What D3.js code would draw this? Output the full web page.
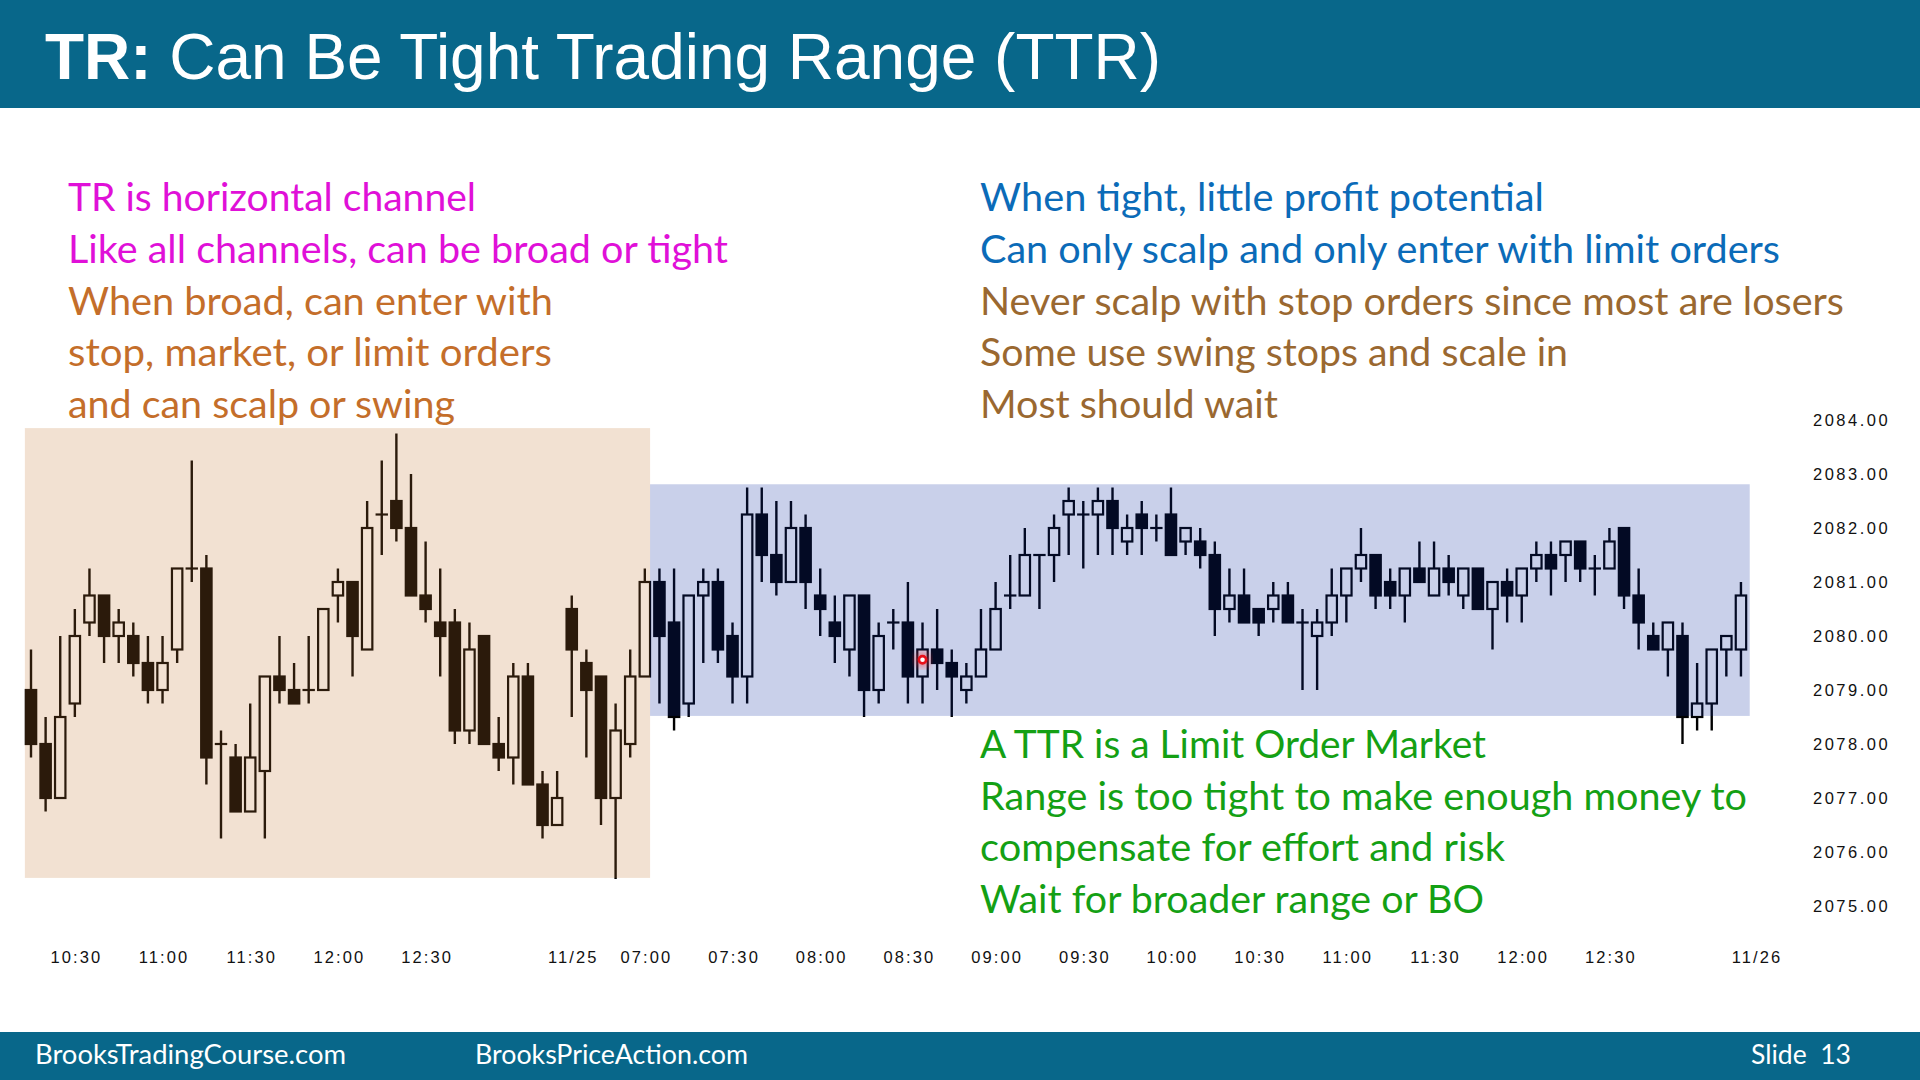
<!DOCTYPE html>
<html>
<head>
<meta charset="utf-8">
<script src="https://cdn.jsdelivr.net/npm/d3@7"></script>
<style>
  body { margin: 0; background: #fff; }
  svg { display: block; }
  .axis text { font-family: Arial, "Liberation Sans", sans-serif; fill: #111; }
</style>
</head>
<body>
<script>
"use strict";

// sessions shown on the chart (5 minute bars, labelled by bar end time)
const sessions = [
  { date: '11/24', start: '10:15', end: '13:15' },
  { date: '11/25', start: '06:35', end: '13:15' },
];
const nextSessionKey = '11/26 06:35';

// OHLC (ES ticks of 0.25)
const opens = [
  2079.0, 2078.0, 2077.0, 2078.75, 2080.25, 2080.75, 2080.0, 2080.0, 2079.5, 2079.0,
  2079.75, 2081.25, 2081.25, 2078.0, 2077.75, 2076.75, 2077.5, 2079.25, 2079.0, 2079.0,
  2079.0, 2080.75, 2081.0, 2079.75, 2082.25, 2082.5, 2082.0, 2080.75, 2080.25, 2080.25,
  2078.25, 2080.0, 2078.0, 2077.75, 2079.25, 2077.25, 2076.5,
  2080.5, 2079.5, 2079.25, 2077.0, 2078.0, 2079.25, 2081.0, 2080.25, 2078.75, 2080.75,
  2081.0, 2080.0, 2079.25, 2082.25, 2081.5, 2081.0, 2082.0, 2080.75, 2080.25, 2079.75,
  2080.75, 2079.0, 2080.25, 2080.25, 2079.25, 2079.75, 2079.5, 2079.0, 2079.25, 2079.75,
  2080.75, 2080.75, 2081.5, 2081.5, 2082.25, 2082.25, 2082.25, 2082.5, 2081.75, 2082.25,
  2082.0, 2082.25, 2081.75, 2081.75, 2081.5, 2080.5, 2080.75, 2080.5, 2080.5, 2080.75,
  2080.25, 2080.0, 2080.25, 2080.75, 2081.25, 2081.5, 2081.0, 2080.75, 2081.25, 2080.75,
  2081.25, 2080.75, 2081.25, 2080.5, 2081.0, 2080.75, 2081.25, 2081.5, 2081.5, 2081.75,
  2081.25, 2081.25, 2082.0, 2080.75, 2080.0, 2079.75, 2080.0, 2078.5, 2078.75, 2079.75,
  2079.75,
];
const highs = [
  2079.75, 2078.5, 2080.0, 2080.5, 2081.25, 2080.75, 2080.5, 2080.25, 2080.0, 2080.0,
  2081.25, 2083.25, 2081.5, 2078.25, 2078.0, 2078.75, 2079.25, 2080.0, 2079.5, 2080.0,
  2080.5, 2081.25, 2081.0, 2082.5, 2083.25, 2083.75, 2083.0, 2081.75, 2081.25, 2080.5,
  2080.25, 2080.0, 2078.5, 2079.5, 2079.5, 2077.5, 2077.5,
  2080.75, 2079.75, 2079.25, 2078.75, 2079.75, 2081.25, 2081.25, 2081.25, 2080.75, 2081.25,
  2081.25, 2080.25, 2082.75, 2082.75, 2082.5, 2082.5, 2082.25, 2081.25, 2080.75, 2080.75,
  2080.75, 2080.25, 2080.5, 2081.0, 2080.25, 2080.5, 2079.75, 2079.5, 2080.5, 2081.0,
  2081.5, 2082.0, 2081.5, 2082.25, 2082.75, 2082.5, 2082.75, 2082.75, 2082.25, 2082.5,
  2082.25, 2082.75, 2082.0, 2082.0, 2081.75, 2081.25, 2081.25, 2080.5, 2081.0, 2081.0,
  2080.5, 2080.5, 2081.25, 2081.25, 2082.0, 2081.5, 2081.25, 2081.25, 2081.75, 2081.75,
  2081.5, 2081.25, 2081.25, 2081.0, 2081.25, 2081.25, 2081.75, 2081.75, 2081.75, 2081.75,
  2081.5, 2082.0, 2082.0, 2081.25, 2080.25, 2080.25, 2080.25, 2079.5, 2079.75, 2080.0,
  2081.0,
];
const lows = [
  2077.75, 2076.75, 2077.0, 2078.5, 2080.0, 2079.5, 2079.5, 2079.25, 2078.75, 2078.75,
  2079.5, 2081.0, 2077.25, 2076.25, 2076.75, 2076.75, 2076.25, 2078.75, 2078.75, 2078.75,
  2079.0, 2080.25, 2079.25, 2079.75, 2081.5, 2081.75, 2080.75, 2080.25, 2079.25, 2078.0,
  2078.0, 2078.0, 2077.5, 2077.25, 2077.25, 2076.25, 2076.5,
  2078.5, 2077.75, 2076.5, 2075.5, 2077.75, 2079.25, 2078.75, 2078.25, 2078.5, 2079.5,
  2079.5, 2078.75, 2078.75, 2081.0, 2080.75, 2081.0, 2080.5, 2080.0, 2079.5, 2079.25,
  2078.5, 2078.75, 2079.75, 2078.75, 2078.75, 2079.0, 2078.5, 2078.75, 2079.25, 2079.75,
  2080.5, 2080.75, 2080.5, 2081.0, 2081.5, 2081.25, 2081.5, 2081.5, 2081.5, 2081.5,
  2081.75, 2081.5, 2081.5, 2081.25, 2080.0, 2080.25, 2080.25, 2080.0, 2080.25, 2080.25,
  2079.0, 2079.0, 2080.0, 2080.25, 2081.0, 2080.5, 2080.5, 2080.25, 2081.0, 2080.75,
  2080.75, 2080.5, 2080.5, 2079.75, 2080.25, 2080.25, 2081.0, 2080.75, 2081.0, 2081.0,
  2080.75, 2081.25, 2080.5, 2079.75, 2079.75, 2079.25, 2078.0, 2078.25, 2078.25, 2079.25,
  2079.25,
];
const closes = [
  2078.0, 2077.0, 2078.5, 2080.0, 2080.75, 2080.0, 2080.25, 2079.5, 2079.0, 2079.5,
  2081.25, 2081.25, 2077.75, 2078.0, 2076.75, 2077.75, 2079.25, 2079.0, 2078.75, 2079.0,
  2080.5, 2081.0, 2080.0, 2082.0, 2082.25, 2082.0, 2080.75, 2080.5, 2080.0, 2078.25,
  2079.75, 2078.0, 2077.75, 2079.25, 2077.25, 2076.5, 2077.0,
  2079.75, 2079.0, 2077.0, 2078.25, 2079.25, 2081.0, 2080.0, 2078.5, 2080.75, 2081.0,
  2079.75, 2079.25, 2082.25, 2081.5, 2081.0, 2082.0, 2081.0, 2080.5, 2080.0, 2080.75,
  2079.0, 2080.0, 2080.25, 2079.25, 2079.75, 2079.5, 2079.25, 2079.25, 2079.75, 2080.5,
  2080.75, 2081.5, 2081.5, 2082.0, 2082.5, 2082.25, 2082.5, 2082.0, 2082.0, 2082.0,
  2082.0, 2081.5, 2082.0, 2081.5, 2080.5, 2080.75, 2080.25, 2080.25, 2080.75, 2080.25,
  2080.25, 2080.25, 2080.75, 2081.25, 2081.5, 2080.75, 2080.75, 2081.25, 2081.0, 2081.25,
  2081.0, 2081.25, 2080.5, 2081.0, 2080.75, 2081.25, 2081.5, 2081.25, 2081.75, 2081.25,
  2081.25, 2081.75, 2080.75, 2080.25, 2079.75, 2080.25, 2078.5, 2078.75, 2079.75, 2080.0,
  2080.75,
];

const priceTicks = [2075, 2076, 2077, 2078, 2079, 2080, 2081, 2082, 2083, 2084];
const timeTicks = [
  ['11/24 10:30', '10:30'], ['11/24 11:00', '11:00'], ['11/24 11:30', '11:30'],
  ['11/24 12:00', '12:00'], ['11/24 12:30', '12:30'],
  ['11/25 06:35', '11/25'], ['11/25 07:00', '07:00'], ['11/25 07:30', '07:30'],
  ['11/25 08:00', '08:00'], ['11/25 08:30', '08:30'], ['11/25 09:00', '09:00'],
  ['11/25 09:30', '09:30'], ['11/25 10:00', '10:00'], ['11/25 10:30', '10:30'],
  ['11/25 11:00', '11:00'], ['11/25 11:30', '11:30'], ['11/25 12:00', '12:00'],
  ['11/25 12:30', '12:30'], ['11/26 06:35', '11/26'],
];

// shaded zones: first bar, last bar, low, high
const broadZone = { from: '11/24 10:15', to: '11/25 07:00', low: 2075.52, high: 2083.85 };
const tightZone = { from: '11/25 07:00', to: '11/25 13:15', low: 2078.52, high: 2082.81 };
const pointer = { key: '11/25 08:35', price: 2079.56 };

const leftLines = [
  { text: 'TR is horizontal channel', color: '#e010d8' },
  { text: 'Like all channels, can be broad or tight', color: '#e010d8' },
  { text: 'When broad, can enter with', color: '#c46e2a' },
  { text: 'stop, market, or limit orders', color: '#c46e2a' },
  { text: 'and can scalp or swing', color: '#c46e2a' },
];
const rightLines = [
  { text: 'When tight, little profit potential', color: '#0b6bb8' },
  { text: 'Can only scalp and only enter with limit orders', color: '#0b6bb8' },
  { text: 'Never scalp with stop orders since most are losers', color: '#9a6830' },
  { text: 'Some use swing stops and scale in', color: '#9a6830' },
  { text: 'Most should wait', color: '#9a6830' },
];
const greenLines = [
  { text: 'A TTR is a Limit Order Market', color: '#14a014' },
  { text: 'Range is too tight to make enough money to', color: '#14a014' },
  { text: 'compensate for effort and risk', color: '#14a014' },
  { text: 'Wait for broader range or BO', color: '#14a014' },
];

// ---- layout ----
const W = 1920, H = 1080;
const BRAND = '#08678a';
const leftWidths = [408, 660, 485, 484, 387];
const rightWidths = [564, 800, 864, 588, 298];
const greenWidths = [506, 767, 525, 504];

function buildKeys(list) {
  let keys = [];
  list.forEach((s) => {
    let [h0, m0] = s.start.split(':').map(Number);
    let [h1, m1] = s.end.split(':').map(Number);
    for (let t = h0 * 60 + m0; t <= h1 * 60 + m1; t += 5) {
      let hh = String(Math.floor(t / 60)).padStart(2, '0');
      let mm = String(t % 60).padStart(2, '0');
      keys.push(s.date + ' ' + hh + ':' + mm);
    }
  });
  return keys;
}

const keys = buildKeys(sessions);
const bars = keys.map((k, i) => ({ key: k, o: opens[i], h: highs[i], l: lows[i], c: closes[i] }));

const svg = d3.select('body').append('svg').attr('width', W).attr('height', H);
svg.append('rect').attr('width', W).attr('height', H).attr('fill', '#fff');

// header / footer bands
svg.append('rect').attr('width', W).attr('height', 108).attr('fill', BRAND);
svg.append('rect').attr('y', 1032).attr('width', W).attr('height', 48).attr('fill', BRAND);

let title = svg.append('text')
  .attr('x', 45).attr('y', 79)
  .attr('font-family', 'Arial, "Liberation Sans", sans-serif')
  .attr('font-size', 64).attr('fill', '#fff')
  .attr('textLength', 1116).attr('lengthAdjust', 'spacingAndGlyphs');
title.append('tspan').attr('font-weight', 'bold').text('TR:');
title.append('tspan').text(' Can Be Tight Trading Range (TTR)');

const footer = [
  { text: 'BrooksTradingCourse.com', x: 35, w: 311 },
  { text: 'BrooksPriceAction.com', x: 475, w: 273 },
  { text: 'Slide  13', x: 1751, w: 100 },
];
svg.append('g').selectAll('text').data(footer).join('text')
  .attr('x', (d) => d.x).attr('y', 1064)
  .attr('font-family', 'Lato, "Open Sans", sans-serif')
  .attr('font-size', 26).attr('fill', '#fff')
  .attr('xml:space', 'preserve').style('white-space', 'pre')
  .attr('textLength', (d) => d.w).attr('lengthAdjust', 'spacingAndGlyphs')
  .text((d) => d.text);

// ---- chart ----
const x = d3.scalePoint().domain(keys.concat([nextSessionKey])).range([31, 31 + keys.length * 14.615]);
const step = x.step();
const y = d3.scaleLinear().domain([2075, 2084]).range([906, 420]);

const chart = svg.append('g');

chart.append('g').selectAll('line').data(bars).join('line')
  .attr('x1', (d) => x(d.key)).attr('x2', (d) => x(d.key))
  .attr('y1', (d) => y(d.h)).attr('y2', (d) => y(d.l))
  .attr('stroke', '#000').attr('stroke-width', 2.4);

const bodyW = 10.4;
chart.append('g').selectAll('rect').data(bars.filter((d) => d.o !== d.c)).join('rect')
  .attr('x', (d) => x(d.key) - bodyW / 2)
  .attr('y', (d) => y(Math.max(d.o, d.c)))
  .attr('width', bodyW)
  .attr('height', (d) => Math.abs(y(d.o) - y(d.c)))
  .attr('fill', (d) => d.c > d.o ? '#fff' : '#000')
  .attr('stroke', '#000').attr('stroke-width', 2.2);

chart.append('g').selectAll('line').data(bars.filter((d) => d.o === d.c)).join('line')
  .attr('x1', (d) => x(d.key) - bodyW / 2 - 1).attr('x2', (d) => x(d.key) + bodyW / 2 + 1)
  .attr('y1', (d) => y(d.o)).attr('y2', (d) => y(d.o))
  .attr('stroke', '#000').attr('stroke-width', 2.2);

// translucent zones drawn over the bars
chart.append('rect')
  .attr('x', x(broadZone.from) - step * 0.42)
  .attr('width', x(broadZone.to) + step * 0.36 - (x(broadZone.from) - step * 0.42))
  .attr('y', y(broadZone.high)).attr('height', y(broadZone.low) - y(broadZone.high))
  .attr('fill', 'rgb(196,118,52)').attr('fill-opacity', 0.22);
chart.append('rect')
  .attr('x', x(tightZone.from) + step * 0.36)
  .attr('width', x(tightZone.to) + step * 0.6 - (x(tightZone.from) + step * 0.36))
  .attr('y', y(tightZone.high)).attr('height', y(tightZone.low) - y(tightZone.high))
  .attr('fill', 'rgb(14,46,160)').attr('fill-opacity', 0.225);

// cursor mark
const defs = svg.append('defs');
defs.append('filter').attr('id', 'glow').append('feGaussianBlur').attr('stdDeviation', 3);
chart.append('circle').attr('cx', x(pointer.key)).attr('cy', y(pointer.price))
  .attr('r', 8).attr('fill', '#ff3030').attr('opacity', 0.45).attr('filter', 'url(#glow)');
chart.append('circle').attr('cx', x(pointer.key)).attr('cy', y(pointer.price))
  .attr('r', 3.6).attr('fill', '#fff').attr('stroke', '#e8101a').attr('stroke-width', 2.6);

// axes
const xAxis = d3.axisBottom(x)
  .tickValues(timeTicks.map((d) => d[0]))
  .tickFormat((k) => timeTicks.find((d) => d[0] === k)[1])
  .tickSize(0).tickPadding(3);
let gx = svg.append('g').attr('class', 'axis').attr('transform', 'translate(0,948)').call(xAxis);
gx.select('.domain').remove();
gx.selectAll('text').attr('font-size', 16.5).attr('letter-spacing', 2.1)
  .attr('dx', 1);

const yAxis = d3.axisRight(y)
  .tickValues(priceTicks)
  .tickFormat(d3.format('.2f'))
  .tickSize(0).tickPadding(0);
let gy = svg.append('g').attr('class', 'axis').attr('transform', 'translate(1813,0)').call(yAxis);
gy.select('.domain').remove();
gy.selectAll('text').attr('font-size', 16.5).attr('letter-spacing', 2.5);

// ---- slide text ----
function textBlock(lines, widths, x0, y0, gap) {
  svg.append('g').selectAll('text').data(lines).join('text')
    .attr('x', x0).attr('y', (d, i) => y0 + i * gap)
    .attr('font-family', 'Lato, "Open Sans", sans-serif')
    .attr('font-size', 38)
    .attr('fill', (d) => d.color)
    .attr('textLength', (d, i) => widths[i]).attr('lengthAdjust', 'spacingAndGlyphs')
    .text((d) => d.text);
}

textBlock(leftLines, leftWidths, 68, 211, 51.8);
textBlock(rightLines, rightWidths, 980, 211, 51.8);
textBlock(greenLines, greenWidths, 980, 758, 51.5);
</script>
</body>
</html>
